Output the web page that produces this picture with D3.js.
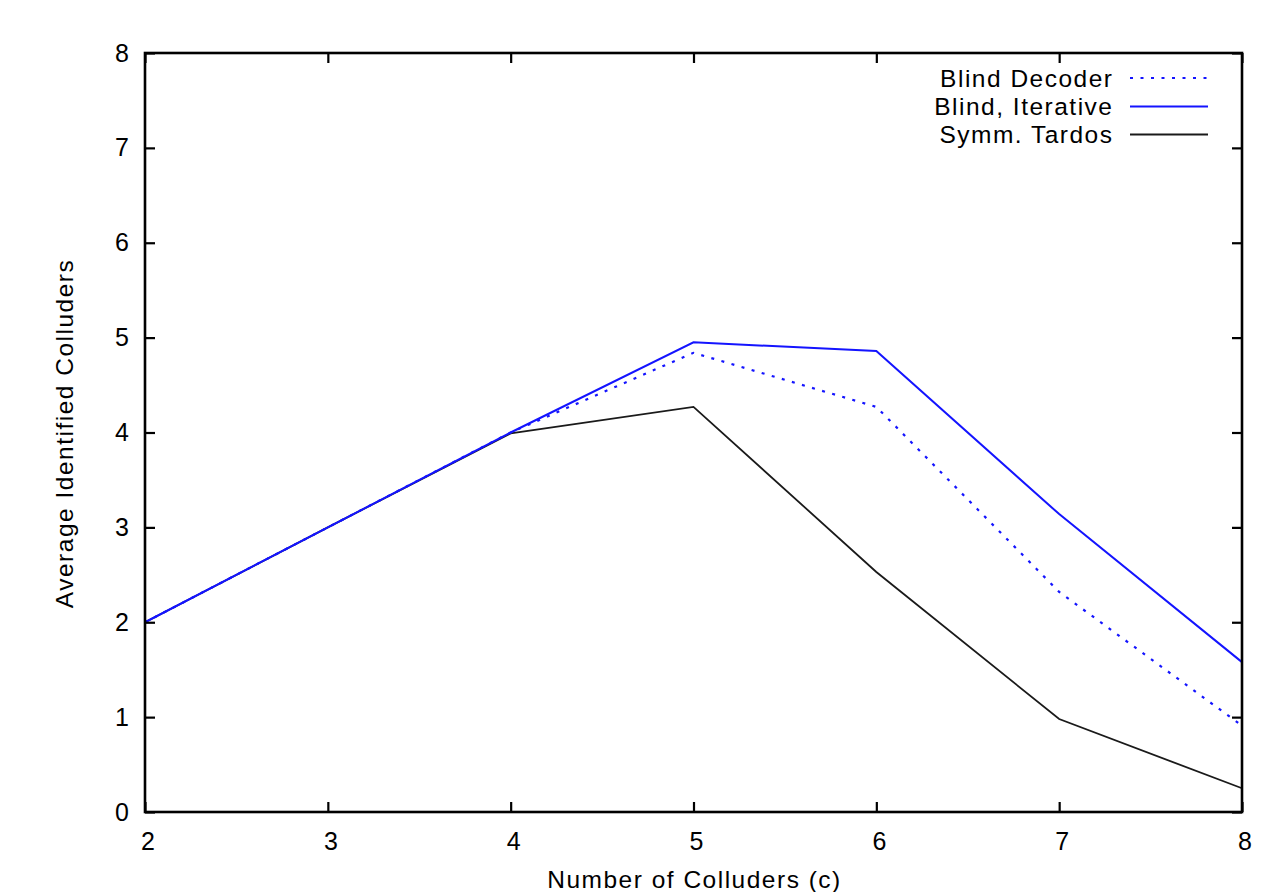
<!DOCTYPE html>
<html><head><meta charset="utf-8">
<script src="https://cdn.jsdelivr.net/npm/d3@7"></script>
<style>body{margin:0;background:#fff;} svg{display:block;} text{font-family:"Liberation Sans",Arial,Helvetica,sans-serif;fill:#000;}</style>
</head><body>
<svg id="chart" width="1285" height="892"></svg>
<script>
const colluders = [2, 3, 4, 5, 6, 7, 8];
const blindDecoder = [2, 3, 4.0, 4.84, 4.27, 2.32, 0.91];
const blindIterative = [2, 3, 4.0, 4.95, 4.86, 3.14, 1.58];
const symmTardos = [2, 3, 3.99, 4.27, 2.53, 0.98, 0.25];
const xTickValues = [2, 3, 4, 5, 6, 7, 8];
const yTickValues = [0, 1, 2, 3, 4, 5, 6, 7, 8];
const seriesNames = ["Blind Decoder", "Blind, Iterative", "Symm. Tardos"];

const svg = d3.select("#chart");
const L = 145, R = 1242, T = 53, B = 812;
const x = d3.scaleLinear().domain([2, 8]).range([L, R]);
const y = d3.scaleLinear().domain([0, 8]).range([B, T]);
const FS = 24.5, LS = 1.5;

const series = [
  {name: seriesNames[0], values: blindDecoder, color: "#1414ff", dash: "3,7.5", w: 2.2},
  {name: seriesNames[1], values: blindIterative, color: "#1414ff", dash: null, w: 2},
  {name: seriesNames[2], values: symmTardos, color: "#1a1a1a", dash: null, w: 1.8}
];

const line = d3.line().x((d, i) => x(colluders[i])).y(d => y(d));
[series[2], series[0], series[1]].forEach(s => {
  svg.append("path").attr("d", line(s.values)).attr("fill", "none")
    .attr("stroke", s.color).attr("stroke-width", s.w)
    .attr("stroke-dasharray", s.dash).attr("stroke-linejoin", "miter");
});

// ticks (inward, mirrored)
const tk = 10;
const axB = d3.axisBottom(x).tickValues(xTickValues).tickSizeInner(-tk).tickSizeOuter(0).tickFormat("");
const axT = d3.axisTop(x).tickValues(xTickValues).tickSizeInner(-tk).tickSizeOuter(0).tickFormat("");
const axLf = d3.axisLeft(y).tickValues(yTickValues).tickSizeInner(-tk).tickSizeOuter(0).tickFormat("");
const axRt = d3.axisRight(y).tickValues(yTickValues).tickSizeInner(-tk).tickSizeOuter(0).tickFormat("");
[[axB, `translate(0,${B})`], [axT, `translate(0,${T})`], [axLf, `translate(${L},0)`], [axRt, `translate(${R},0)`]].forEach(([a, t]) => {
  const g = svg.append("g").attr("transform", t).call(a);
  g.select(".domain").remove();
  g.selectAll("line").attr("stroke", "#000").attr("stroke-width", 2.2);
});

svg.append("rect").attr("x", L).attr("y", T).attr("width", R - L).attr("height", B - T)
  .attr("fill", "none").attr("stroke", "#000").attr("stroke-width", 2.6);

function txt(px, py, s, anchor, rot, ls, fs) {
  return svg.append("text")
    .attr("transform", `translate(${px},${py})` + (rot ? ` rotate(${rot})` : ""))
    .attr("text-anchor", anchor).attr("font-size", fs || FS)
    .attr("letter-spacing", ls === undefined ? LS : ls).text(s);
}

// tick labels
xTickValues.forEach(v => txt(x(v) + 3, 850, String(v), "middle", 0, 0, 25));
yTickValues.forEach(v => txt(129, y(v) + 8.5, String(v), "end", 0, 0, 25));

// axis titles
txt((L + R) / 2 + 1, 888, "Number of Colluders (c)", "middle");
txt(73, (T + B) / 2 + 1, "Average Identified Colluders", "middle", -90);

// legend
const legY = [78, 106.5, 134.5];
series.forEach((s, i) => {
  txt(1113.5, legY[i] + 8.5, s.name, "end");
  svg.append("line").attr("x1", 1130).attr("x2", 1208).attr("y1", legY[i]).attr("y2", legY[i])
    .attr("stroke", s.color).attr("stroke-width", s.w).attr("stroke-dasharray", s.dash);
});
</script>
</body></html>
